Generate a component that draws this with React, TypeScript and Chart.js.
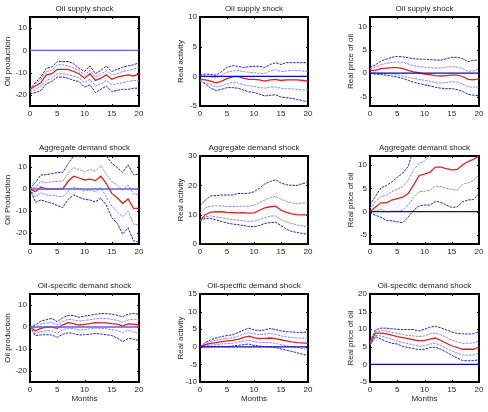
import React, { useEffect, useRef } from "react";
import { Chart, registerables } from "chart.js";

Chart.register(...registerables);

// Horizon (months after the shock)
const months = [0, 1, 2, 3, 4, 5, 6, 7, 8, 9, 10, 11, 12, 13, 14, 15, 16, 17, 18, 19, 20];
const monthTicks = [0, 5, 10, 15, 20];

// Tick labels for the y axes
const prodTicks = [-20, -10, 0, 10];
const supActTicks = [-5, 0, 5, 10];
const priceTicks = [-5, 0, 5, 10];
const demActTicks = [0, 10, 20, 30];
const specActTicks = [-10, -5, 0, 5, 10, 15];
const specPriceTicks = [-5, 0, 5, 10, 15, 20];

// Oil supply shock -> oil production
const supProdUp2 = [-17.5, -14.5, -12, -8, -7.5, -5, -5, -5, -6, -8, -9.5, -7, -10.5, -9, -7, -9.5, -8.5, -7.5, -7, -6.5, -5.5];
const supProdUp1 = [-17.5, -15, -13, -9.5, -9, -6.5, -6.5, -7, -8, -9, -11, -9, -12, -11, -9, -11, -10.5, -9.5, -9, -8.5, -7.5];
const supProdMed = [-17.5, -16, -14.5, -11, -10.5, -8.5, -8.5, -8.5, -9.5, -10.5, -12.5, -10.5, -13.5, -12.5, -11, -13, -12, -11.5, -11, -11.5, -10.5];
const supProdLo1 = [-18.5, -17.5, -16, -13.5, -12.5, -10.5, -10.5, -11, -11.5, -12.5, -14.5, -13, -16, -15, -13.5, -15.5, -15, -14.5, -14, -13.5, -13.5];
const supProdLo2 = [-19.5, -19, -18, -15, -14, -12, -12, -12.5, -13.5, -14, -16.5, -15.5, -19, -17.5, -16, -18.5, -18, -17.5, -17.5, -17, -17];

// Oil supply shock -> real activity
const supActUp2 = [0.2, 0.4, 0.3, 0.2, 0.8, 1.5, 1.8, 1.7, 1.5, 1.6, 1.7, 1.7, 1.5, 2.0, 2.3, 2.0, 2.3, 2.3, 2.3, 2.3, 2.3];
const supActUp1 = [0, 0.1, -0.1, -0.3, 0.2, 0.7, 0.9, 1.0, 0.8, 0.7, 0.6, 0.5, 0.5, 0.9, 1.1, 0.8, 0.9, 1.0, 1.0, 0.9, 0.8];
const supActMed = [-0.5, -0.6, -0.8, -1.1, -0.8, -0.4, -0.1, 0, -0.3, -0.5, -0.5, -0.6, -0.8, -0.6, -0.5, -0.7, -0.6, -0.6, -0.6, -0.7, -0.8];
const supActLo1 = [-0.8, -1.1, -1.4, -1.8, -1.6, -1.3, -1.0, -1.1, -1.4, -1.6, -1.7, -1.9, -2.0, -1.8, -1.8, -2.0, -2.1, -2.1, -2.2, -2.3, -2.3];
const supActLo2 = [-0.7, -1.3, -2.0, -2.4, -2.2, -1.9, -1.9, -2.0, -2.3, -2.6, -2.7, -3.0, -3.3, -3.2, -3.1, -3.5, -3.6, -3.7, -3.9, -4.1, -4.3];

// Oil supply shock -> real price of oil
const supPriceUp2 = [1.2, 1.8, 2.6, 3.0, 3.4, 3.6, 3.5, 3.3, 3.1, 3.0, 3.0, 2.9, 2.8, 2.8, 3.1, 3.4, 3.4, 3.1, 2.5, 2.7, 2.9];
const supPriceUp1 = [0.9, 1.3, 1.8, 2.1, 2.3, 2.4, 2.3, 2.0, 1.6, 1.4, 1.3, 1.2, 1.1, 1.1, 1.3, 1.4, 1.3, 1.0, 0.4, 0.5, 0.9];
const supPriceMed = [0.6, 0.6, 1.0, 1.1, 1.2, 1.2, 1.0, 0.6, 0.3, 0.1, -0.2, -0.3, -0.5, -0.6, -0.5, -0.4, -0.4, -0.7, -1.3, -1.4, -1.2];
const supPriceLo1 = [0.2, 0, 0, -0.1, -0.1, -0.3, -0.6, -0.9, -1.1, -1.3, -1.5, -1.7, -2.0, -2.1, -2.0, -1.8, -1.9, -2.3, -2.9, -3.0, -2.9];
const supPriceLo2 = [0, -0.2, -0.3, -0.4, -0.6, -0.8, -1.1, -1.5, -1.9, -2.2, -2.5, -2.7, -3.0, -3.2, -3.3, -3.3, -3.5, -3.9, -4.5, -4.7, -4.8];

// Aggregate demand shock -> oil production
const demProdUp2 = [0, 3, 6.4, 6.5, 7, 7.5, 7.6, 11.5, 15, 14.7, 14.7, 16, 17, 16.5, 15, 11.7, 9.8, 7.6, 10.9, 6.4, 6.8];
const demProdUp1 = [0, 1, 3.3, 2.9, 3.3, 3.5, 3.6, 7.1, 9.7, 8.8, 7.9, 8.8, 8.2, 10.6, 6.7, 3.3, 1.8, -0.5, 1.8, -2.4, -2.4];
const demProdMed = [0, -1.2, 0.9, 0, 0, 0, 0, 3.5, 5.8, 5, 4.1, 4.5, 3.8, 5.8, 2.5, -2, -4, -6.5, -4.5, -8.8, -8.8];
const demProdLo1 = [0, -3.5, -1.7, -2.7, -3, -3.2, -3.6, -0.9, 0.8, 0, -0.9, -0.5, -1.2, 0.6, -3.5, -7.7, -10.3, -12.6, -10, -16, -16.4];
const demProdLo2 = [0, -6, -5, -5.8, -6.5, -7.5, -8.5, -4.7, -2.7, -3.8, -4.7, -5, -5.8, -4.2, -7.3, -13, -15.6, -20.5, -17.6, -23.6, -24.2];

// Aggregate demand shock -> real activity
const demActUp2 = [13, 15, 16.4, 16.5, 16.7, 16.7, 16.7, 17.2, 17.2, 17.3, 17.8, 19, 20.5, 21.3, 21.9, 20.8, 20.2, 20, 20, 20.6, 21];
const demActUp1 = [10.5, 12.3, 12.9, 13, 13, 12.8, 12.8, 12.8, 12.9, 12.8, 13.2, 14, 15, 15.8, 16.2, 15.3, 14.5, 14, 13.7, 14, 14];
const demActMed = [8, 10, 10.9, 11, 11, 10.8, 10.7, 10.6, 10.7, 10.5, 10.6, 11.5, 12.3, 12.7, 12.9, 11.5, 10.8, 10.3, 10, 9.9, 9.9];
const demActLo1 = [8, 9.3, 9.6, 9.2, 9, 8.6, 8.3, 8.2, 7.9, 7.7, 7.8, 8.3, 9, 9.5, 9.6, 8.3, 7.5, 7, 6.5, 6.1, 5.9];
const demActLo2 = [7.9, 8.8, 8.7, 8.2, 7.6, 7.2, 6.8, 6.6, 6.3, 6, 5.9, 6.3, 7, 7.3, 7.4, 6.3, 5, 4.3, 3.9, 3.6, 3.3];

// Aggregate demand shock -> real price of oil
const demPriceUp2 = [1.5, 3.3, 5.1, 5.6, 6.4, 7.4, 8.3, 9.7, 13.5, 15.2, 15.8, 16.4, 17.3, 17.5, 17.3, 17, 17.1, 18, 18.9, 19.6, 20.4];
const demPriceUp1 = [0.7, 2.2, 3.2, 3.5, 4.3, 4.8, 5.4, 6.8, 9, 10.4, 10.9, 12, 13, 13.1, 12.8, 12.4, 12.5, 13.3, 14.1, 14.8, 15.6];
const demPriceMed = [0, 1, 1.9, 1.9, 2.5, 2.8, 3.1, 3.9, 5.7, 7.8, 8.1, 8.5, 9.6, 9.6, 9.3, 9, 9.1, 10.1, 10.8, 11.3, 12];
const demPriceLo1 = [0, 0.15, 0.5, -0.1, 0.1, 0.1, 0.3, 1.4, 3, 4.3, 4.4, 4.6, 5.5, 5.4, 5, 4.8, 4.6, 5.9, 6.2, 6.7, 7.9];
const demPriceLo2 = [-0.3, -0.8, -1.2, -1.9, -2, -2.2, -2.4, -1.2, 0.3, 1.2, 1.4, 1.4, 2.2, 2, 1.4, 0.9, 1, 2.1, 2.5, 2.6, 3.9];

// Oil-specific demand shock -> oil production
const specProdUp2 = [0, 1, 2.7, 3.3, 3.9, 2.4, 4.2, 5.3, 5.2, 4.4, 5, 5.3, 5.8, 6.1, 6.1, 5.8, 5.3, 4.7, 5.8, 6.2, 5.8];
const specProdUp1 = [0, -0.2, 1.4, 1.8, 2.1, 0.9, 2.5, 3.5, 3.2, 2.7, 3, 3.3, 3.7, 3.9, 3.8, 3.5, 3, 2.1, 3.2, 3.6, 3.2];
const specProdMed = [0, -1.7, -0.6, 0, 0, -0.6, 1, 2, 1.5, 0.9, 1.2, 1.5, 2, 1.9, 1.9, 1.5, 1.3, 0.5, 1.4, 1.3, 0.9];
const specProdLo1 = [0, -2.9, -2.1, -1.7, -1.8, -2.9, -1.2, -0.6, -0.7, -1.4, -1.2, -0.8, -0.6, -0.6, -0.8, -1.3, -1.6, -2.6, -1.4, -2.3, -2.9];
const specProdLo2 = [0, -3.9, -3.6, -3.5, -3.6, -4.7, -3.3, -2.6, -3, -3.6, -3.5, -3.3, -2.9, -3.2, -3.5, -3.9, -5, -6.7, -5.2, -5.5, -6.2];

// Oil-specific demand shock -> real activity
const specActUp2 = [0, 1.2, 2, 2.5, 2.9, 3.2, 3.4, 4, 4.7, 5.3, 4.8, 4.6, 4.8, 5.2, 4.9, 4.5, 4.3, 4.2, 4.1, 4.1, 4.2];
const specActUp1 = [0, 0.9, 1.5, 1.9, 2.2, 2.4, 2.6, 3, 3.6, 4, 3.7, 3.4, 3.6, 3.8, 3.5, 3.1, 2.8, 2.6, 2.5, 2.5, 2.5];
const specActMed = [0, 0.6, 1, 1.2, 1.5, 1.7, 1.8, 2.1, 2.6, 3, 2.6, 2.3, 2.4, 2.5, 2.3, 2, 1.7, 1.4, 1.2, 1.1, 1];
const specActLo1 = [0, 0.3, 0.5, 0.6, 0.8, 0.9, 1, 1.3, 1.6, 1.8, 1.5, 1.2, 1.2, 1.2, 1, 0.6, 0.3, 0, -0.2, -0.5, -0.7];
const specActLo2 = [0, 0, 0, 0.1, 0.1, 0.1, 0.2, 0.4, 0.6, 0.8, 0.4, 0.2, 0.1, 0, -0.2, -0.6, -1, -1.3, -1.7, -2.1, -2.5];

// Oil-specific demand shock -> real price of oil
const specPriceUp2 = [6.5, 9.8, 10.3, 10.3, 10.1, 10, 9.9, 9.9, 9.9, 9.5, 10, 10.6, 10.8, 10.4, 9.8, 9.2, 8.8, 8.7, 8.6, 8.7, 9.3];
const specPriceUp1 = [6.3, 9.2, 9.6, 9.5, 9.1, 8.8, 8.5, 8.2, 8.1, 7.9, 8.1, 8.7, 8.9, 8.4, 7.7, 6.9, 6.4, 6, 6, 6.1, 6.7];
const specPriceMed = [5.8, 8.9, 8.9, 8.7, 8.3, 7.9, 7.6, 7.3, 7, 6.7, 6.8, 7.2, 7.5, 6.8, 6, 5.3, 4.8, 4.3, 4.3, 4.3, 4.9];
const specPriceLo1 = [5.6, 8.2, 8.1, 7.6, 7.1, 6.6, 6.2, 5.9, 5.5, 5.1, 5.3, 5.8, 6, 5.4, 4.6, 3.8, 3.2, 2.7, 2.6, 2.7, 3.2];
const specPriceLo2 = [5.4, 7.9, 7.2, 6.5, 6, 5.8, 5.1, 4.8, 4.5, 4.2, 4.3, 4.8, 4.9, 4.3, 3.5, 2.6, 1.8, 1.1, 1, 1.1, 1.3];

const FONT = '"Liberation Sans", Arial, Helvetica, sans-serif';
const TEXT = "#262626";
const OUTER = "rgb(35,35,200)";
const INNER = "rgb(135,135,240)";
const MEDIAN = "rgb(225,30,30)";
const ZERO_LIGHT = "rgb(95,95,228)";
const ZERO_DARK = "rgb(10,10,180)";

// Plot-area geometry of the 3x3 grid
const colLeft = [30, 200, 370];
const colWidth = [109, 108, 109];
const rowTop = [17, 156, 294];
const rowHeight = [89, 88, 88];
const PAD_L = 30;
const PAD_T = 17;
const PAD_R = 8;
const PAD_B = 24;

type PanelSpec = {
  row: number;
  col: number;
  title: string;
  yLabel: string;
  min: number;
  max: number;
  ticks: number[];
  up2: number[];
  up1: number[];
  med: number[];
  lo1: number[];
  lo2: number[];
};

const panels: PanelSpec[] = [
  { row: 0, col: 0, title: "Oil supply shock", yLabel: "Oil production", min: -25, max: 15, ticks: prodTicks, up2: supProdUp2, up1: supProdUp1, med: supProdMed, lo1: supProdLo1, lo2: supProdLo2 },
  { row: 0, col: 1, title: "Oil supply shock", yLabel: "Real activity", min: -5, max: 10, ticks: supActTicks, up2: supActUp2, up1: supActUp1, med: supActMed, lo1: supActLo1, lo2: supActLo2 },
  { row: 0, col: 2, title: "Oil supply shock", yLabel: "Real price of oil", min: -7, max: 12, ticks: priceTicks, up2: supPriceUp2, up1: supPriceUp1, med: supPriceMed, lo1: supPriceLo1, lo2: supPriceLo2 },
  { row: 1, col: 0, title: "Aggregate demand shock", yLabel: "Oil Production", min: -25, max: 15, ticks: prodTicks, up2: demProdUp2, up1: demProdUp1, med: demProdMed, lo1: demProdLo1, lo2: demProdLo2 },
  { row: 1, col: 1, title: "Aggregate demand shock", yLabel: "Real activity", min: 0, max: 30, ticks: demActTicks, up2: demActUp2, up1: demActUp1, med: demActMed, lo1: demActLo1, lo2: demActLo2 },
  { row: 1, col: 2, title: "Aggregate demand shock", yLabel: "Real price of oil", min: -7, max: 12, ticks: priceTicks, up2: demPriceUp2, up1: demPriceUp1, med: demPriceMed, lo1: demPriceLo1, lo2: demPriceLo2 },
  { row: 2, col: 0, title: "Oil-specific demand shock", yLabel: "Oil production", min: -25, max: 15, ticks: prodTicks, up2: specProdUp2, up1: specProdUp1, med: specProdMed, lo1: specProdLo1, lo2: specProdLo2 },
  { row: 2, col: 1, title: "Oil-specific demand shock", yLabel: "Real activity", min: -10, max: 15, ticks: specActTicks, up2: specActUp2, up1: specActUp1, med: specActMed, lo1: specActLo1, lo2: specActLo2 },
  { row: 2, col: 2, title: "Oil-specific demand shock", yLabel: "Real price of oil", min: -5, max: 20, ticks: specPriceTicks, up2: specPriceUp2, up1: specPriceUp1, med: specPriceMed, lo1: specPriceLo1, lo2: specPriceLo2 },
];

const toPoints = (ys: number[]) => months.map((m, i) => ({ x: m, y: ys[i] }));

function IrfPanel({ spec }: { spec: PanelSpec }) {
  const ref = useRef<HTMLCanvasElement | null>(null);
  const w = PAD_L + colWidth[spec.col] + PAD_R;
  const h = PAD_T + rowHeight[spec.row] + PAD_B;

  useEffect(() => {
    if (!ref.current) return;
    const yLabelOffset = spec.col === 0 ? 22 : 19;
    const showMonths = spec.row === 2;

    const decor = {
      id: "irfDecor",
      beforeDatasetsDraw(chart: any) {
        const { ctx, chartArea: a, scales } = chart;
        ctx.save();
        // axes box
        ctx.strokeStyle = "#000";
        ctx.lineWidth = 2;
        ctx.strokeRect(a.left, a.top, a.right - a.left, a.bottom - a.top);
        // inward tick marks on every side
        ctx.lineWidth = 1;
        ctx.beginPath();
        for (const t of scales.x.ticks) {
          const px = Math.round(scales.x.getPixelForValue(t.value)) + 0.5;
          ctx.moveTo(px, a.bottom);
          ctx.lineTo(px, a.bottom - 2);
          ctx.moveTo(px, a.top);
          ctx.lineTo(px, a.top + 2);
        }
        for (const t of scales.y.ticks) {
          const py = Math.round(scales.y.getPixelForValue(t.value)) + 0.5;
          ctx.moveTo(a.left, py);
          ctx.lineTo(a.left + 2, py);
          ctx.moveTo(a.right, py);
          ctx.lineTo(a.right - 2, py);
        }
        ctx.stroke();
        ctx.restore();
      },
      afterDraw(chart: any) {
        const { ctx, chartArea: a } = chart;
        ctx.save();
        ctx.fillStyle = TEXT;
        ctx.font = `8px ${FONT}`;
        ctx.textAlign = "center";
        ctx.textBaseline = "middle";
        const cx = (a.left + a.right) / 2;
        ctx.fillText(spec.title, cx, a.top - 8.5);
        if (showMonths) ctx.fillText("Months", cx, a.bottom + 16.5);
        ctx.translate(a.left - yLabelOffset, (a.top + a.bottom) / 2);
        ctx.rotate(-Math.PI / 2);
        ctx.fillText(spec.yLabel, 0, 0);
        ctx.restore();
      },
    };

    const band = (data: number[], color: string) => ({
      data: toPoints(data),
      borderColor: color,
      borderWidth: 1,
      borderDash: [2.5, 1],
      pointRadius: 0,
      fill: false,
    });

    const chart = new Chart(ref.current, {
      type: "line",
      data: {
        datasets: [
          {
            data: toPoints(months.map(() => 0)),
            borderColor: spec.col === 0 ? ZERO_LIGHT : ZERO_DARK,
            borderWidth: 1.3,
            pointRadius: 0,
            fill: false,
          },
          {
            data: toPoints(spec.med),
            borderColor: MEDIAN,
            borderWidth: 1.3,
            pointRadius: 0,
            fill: false,
          },
          band(spec.up1, INNER),
          band(spec.lo1, INNER),
          band(spec.up2, OUTER),
          band(spec.lo2, OUTER),
        ],
      },
      options: {
        animation: false,
        responsive: false,
        devicePixelRatio: 1,
        layout: { padding: { left: 0, top: PAD_T, right: PAD_R, bottom: 0 } },
        plugins: {
          legend: { display: false },
          title: { display: false },
          tooltip: { enabled: false },
        },
        elements: { line: { tension: 0 }, point: { radius: 0 } },
        scales: {
          x: {
            type: "linear",
            min: 0,
            max: 20,
            grid: { display: false, drawTicks: false },
            border: { display: false },
            ticks: {
              padding: 2.5,
              color: TEXT,
              font: { family: FONT, size: 8 },
              maxRotation: 0,
              autoSkip: false,
            },
            afterBuildTicks: (s: any) => {
              s.ticks = monthTicks.map((v) => ({ value: v }));
            },
            afterFit: (s: any) => {
              s.height = PAD_B;
            },
          },
          y: {
            type: "linear",
            min: spec.min,
            max: spec.max,
            grid: { display: false, drawTicks: false },
            border: { display: false },
            ticks: {
              padding: 3,
              color: TEXT,
              font: { family: FONT, size: 8 },
              autoSkip: false,
            },
            afterBuildTicks: (s: any) => {
              s.ticks = spec.ticks.map((v) => ({ value: v }));
            },
            afterFit: (s: any) => {
              s.width = PAD_L;
            },
          },
        },
      } as any,
      plugins: [decor],
    });
    return () => chart.destroy();
  }, [spec]);

  return (
    <canvas
      ref={ref}
      width={w}
      height={h}
      style={{
        position: "absolute",
        left: colLeft[spec.col] - PAD_L,
        top: rowTop[spec.row] - PAD_T,
        width: w,
        height: h,
      }}
    />
  );
}

export default function App() {
  return (
    <div
      style={{
        position: "absolute",
        left: 0,
        top: 0,
        width: 488,
        height: 412,
        background: "#fff",
        overflow: "hidden",
      }}
    >
      {panels.map((p, i) => (
        <IrfPanel key={i} spec={p} />
      ))}
    </div>
  );
}
